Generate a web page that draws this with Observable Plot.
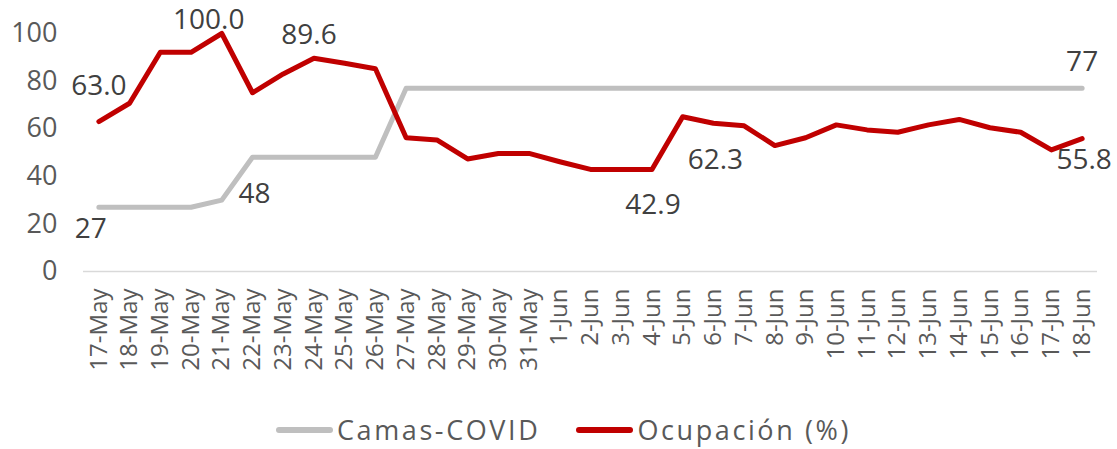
<!DOCTYPE html>
<html><head><meta charset="utf-8">
<script src="https://cdn.jsdelivr.net/npm/d3@7"></script>
<script src="https://cdn.jsdelivr.net/npm/@observablehq/plot@0.6"></script>
<style>
body{margin:0;background:#fff;font-family:"Open Sans",sans-serif;overflow:hidden;}
#chart svg{display:block;}
#legend{display:flex;justify-content:center;align-items:center;height:39px;line-height:30px;font-size:27px;letter-spacing:2.6px;color:#595959;padding-left:10px;}
.item{display:flex;align-items:center;margin:0 18px;}
.sw{width:57px;height:6px;border-radius:3px;margin-right:4px;}
</style></head><body>
<div id="chart"></div>
<div id="legend"></div>
<script>
const dates = ["17-May","18-May","19-May","20-May","21-May","22-May","23-May","24-May","25-May","26-May","27-May","28-May","29-May","30-May","31-May","1-Jun","2-Jun","3-Jun","4-Jun","5-Jun","6-Jun","7-Jun","8-Jun","9-Jun","10-Jun","11-Jun","12-Jun","13-Jun","14-Jun","15-Jun","16-Jun","17-Jun","18-Jun"];
const camas = [27,27,27,27,30,48,48,48,48,48,77,77,77,77,77,77,77,77,77,77,77,77,77,77,77,77,77,77,77,77,77,77,77];
const ocupacion = [63.0,70.7,92.1,92.1,100.0,75.1,83.0,89.6,87.5,85.2,56.2,55.3,47.3,49.6,49.6,46.1,42.9,42.9,42.9,65.0,62.3,61.2,52.9,56.2,61.6,59.5,58.5,61.6,63.9,60.4,58.5,51.1,55.8];
const yTicks = [0,20,40,60,80,100];
const seriesNames = ["Camas-COVID","Ocupación (%)"];
const seriesColors = ["#bfbfbf","#c00000"];

const data = dates.map((d,i)=>({date:d, camas:camas[i], ocup:ocupacion[i]}));
const at = (date)=>data.filter(r=>r.date===date);
const txt = {fill:"#404040", fontSize:28, fontFamily:"Open Sans"};
const oLab = (date,dx,dy)=>Plot.text(at(date),{x:"date", y:"ocup", text:d=>d.ocup.toFixed(1), dx, dy, ...txt});
const cLab = (date,dx,dy)=>Plot.text(at(date),{x:"date", y:"camas", text:d=>String(d.camas), dx, dy, ...txt});

const chart = Plot.plot({
  width:1117, height:410,
  marginLeft:83, marginRight:20, marginTop:33, marginBottom:139,
  style:{fontFamily:"Open Sans", background:"#fff"},
  x:{type:"point", domain:dates, padding:0.5, round:false, label:null},
  y:{domain:[0,100], label:null},
  marks:[
    Plot.ruleY([0],{stroke:"#d9d9d9", strokeWidth:1.5}),
    Plot.axisY({ticks:yTicks, tickSize:0, tickPadding:26, fontSize:27, fill:"#595959", label:null}),
    Plot.axisX({tickRotate:-90, tickSize:0, tickPadding:17, fontSize:24, fill:"#595959", label:null, style:{letterSpacing:"2.8px"}}),
    Plot.line(data,{x:"date", y:"camas", stroke:seriesColors[0], strokeWidth:5}),
    Plot.line(data,{x:"date", y:"ocup", stroke:seriesColors[1], strokeWidth:5}),
    oLab("17-May",0,-36),
    oLab("21-May",-13,-13),
    oLab("24-May",-5,-23),
    oLab("4-Jun",1,36),
    oLab("6-Jun",2,37),
    oLab("18-Jun",2,21),
    cLab("17-May",-8,22),
    cLab("22-May",2,37),
    cLab("18-Jun",0,-26)
  ]
});
document.getElementById("chart").appendChild(chart);
const lg = document.getElementById("legend");
seriesNames.forEach((n,i)=>{
  const it=document.createElement("div");it.className="item";
  const sw=document.createElement("div");sw.className="sw";sw.style.background=seriesColors[i];
  const t=document.createElement("span");t.textContent=n;
  it.appendChild(sw);it.appendChild(t);lg.appendChild(it);
});
</script></body></html>
